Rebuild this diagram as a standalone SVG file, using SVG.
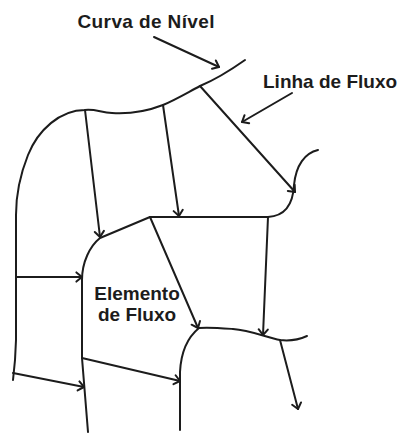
<svg xmlns="http://www.w3.org/2000/svg" width="400" height="433" viewBox="0 0 400 433">
  <style>
    .ln { fill: none; stroke: #1c1c1c; stroke-width: 2; stroke-linecap: round; stroke-linejoin: round; }
    .ar { marker-end: url(#head); }
    .lbl { font-family: "Liberation Sans", Arial, sans-serif; font-weight: bold; font-size: 19px; fill: #1c1c1c; }
  </style>
  <defs>
    <marker id="head" markerUnits="userSpaceOnUse" markerWidth="14" markerHeight="14" viewBox="-10 -7 14 14" refX="0" refY="0" orient="auto" overflow="visible">
      <path d="M-5.6,-4.6 L0,0 L-5.6,4.6" fill="none" stroke="#1c1c1c" stroke-width="2" stroke-linecap="round" stroke-linejoin="round"/>
    </marker>
  </defs>
  <rect width="400" height="433" fill="#ffffff"/>

  <g id="contours">
    <path id="contour1" class="ln" d="M245,60 C228,72 212,81 200,86 C185,94 175,100 163,105 C145,112 128,114 112,113 C100,112 95,109 85,110 C60,110 38,130 28,155 C20,175 16,195 16,215 L16,340 L15,360 L13,380"/>
    <path id="contour2" class="ln" d="M318,150 C305,153 296,165 294,185 C293,205 285,216 268,217 L150,217 L100,238 C90,246 82,262 82,280 L82,358 L88,432"/>
    <path id="contour3" class="ln" d="M307,336 C298,340 288,341 280,340 C268,338 250,330 233,329 C220,328 208,327 199,328 C188,337 181,352 180,372 L180,430"/>
  </g>

  <g id="connectors">
    <path class="ln ar" d="M154,37 L219,67"/>
    <path class="ln ar" d="M292,93 L242,122"/>
    <path class="ln ar" d="M85,110 L100,237"/>
    <path class="ln ar" d="M163,105 L179,216"/>
    <path class="ln ar" d="M200,86 L295,192"/>
    <path class="ln ar" d="M150,217 L198,328"/>
    <path class="ln ar" d="M268,217 L263,335"/>
    <path class="ln ar" d="M16,277 L82,277"/>
    <path class="ln ar" d="M82,358 L180,381"/>
    <path class="ln ar" d="M13,373 L84,387"/>
    <path class="ln ar" d="M280,340 L298,409"/>
  </g>

  <g id="label-curva">
    <text class="lbl" x="77.5" y="28" textLength="137">Curva de Nível</text>
  </g>
  <g id="label-linha">
    <text class="lbl" x="263" y="88">Linha de Fluxo</text>
  </g>
  <g id="label-elemento">
    <text class="lbl" x="137" y="299.5" text-anchor="middle">Elemento</text>
    <text class="lbl" x="137" y="321" text-anchor="middle">de Fluxo</text>
  </g>
</svg>
